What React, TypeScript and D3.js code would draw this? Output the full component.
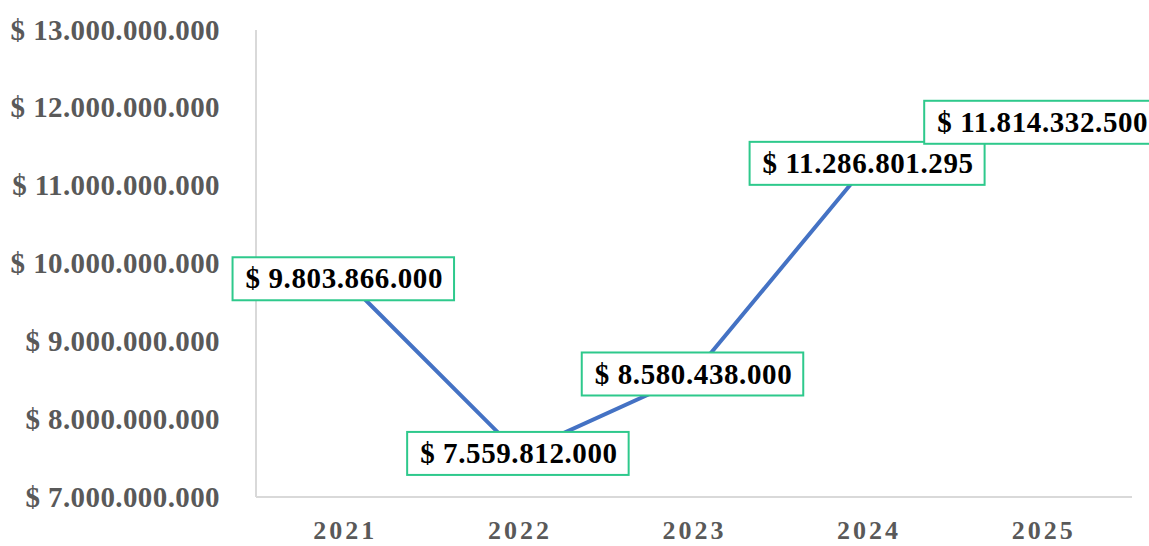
import { useEffect, useRef } from 'react';
import * as d3 from 'd3';

const years = ['2021', '2022', '2023', '2024', '2025'];
const revenue = [9803866000, 7559812000, 8580438000, 11286801295, 11814332500];
const yTicks = [7e9, 8e9, 9e9, 10e9, 11e9, 12e9, 13e9];

const W = 1149;
const H = 546;
const FONT = '"Liberation Serif", "Times New Roman", serif';

const locale = d3.formatLocale({ decimal: ',', thousands: '.', grouping: [3], currency: ['$ ', ''] });
const money = locale.format('$,.0f');

export default function App() {
    const svgRef = useRef<SVGSVGElement | null>(null);

    useEffect(() => {
        if (!svgRef.current) return;
        const svg = d3.select(svgRef.current);
        svg.selectAll('*').remove();

        const x = d3.scaleBand().domain(years).range([257, 1130]);
        const y = d3.scaleLinear().domain([7e9, 13e9]).range([497, 30]);
        const cx = (d: string) => (x(d) ?? 0) + x.bandwidth() / 2;

        // axis lines
        svg.append('line')
            .attr('x1', 256).attr('x2', 256)
            .attr('y1', y(13e9)).attr('y2', y(7e9))
            .attr('stroke', '#d9d9d9').attr('stroke-width', 2);
        svg.append('line')
            .attr('x1', 256).attr('x2', 1132)
            .attr('y1', y(7e9)).attr('y2', y(7e9))
            .attr('stroke', '#d9d9d9').attr('stroke-width', 2);

        // y tick labels
        svg.append('g')
            .selectAll('text')
            .data(yTicks)
            .join('text')
            .attr('x', 220)
            .attr('y', d => y(d))
            .attr('dy', '0.33em')
            .attr('text-anchor', 'end')
            .attr('font-family', FONT)
            .attr('font-weight', 'bold')
            .attr('font-size', 29)
            .attr('letter-spacing', 0.4)
            .attr('fill', '#595959')
            .text(d => money(d));

        // x labels
        svg.append('g')
            .selectAll('text')
            .data(years)
            .join('text')
            .attr('x', d => cx(d) + 1)
            .attr('y', 539)
            .attr('text-anchor', 'middle')
            .attr('font-family', FONT)
            .attr('font-weight', 'bold')
            .attr('font-size', 26)
            .attr('letter-spacing', 3)
            .attr('fill', '#595959')
            .text(d => d);

        // line
        const line = d3.line<number>()
            .x((_, i) => cx(years[i]))
            .y(d => y(d));
        svg.append('path')
            .datum(revenue)
            .attr('d', line)
            .attr('fill', 'none')
            .attr('stroke', '#4472c4')
            .attr('stroke-width', 4)
            .attr('stroke-linejoin', 'round');

        // data labels
        const labels = svg.append('g')
            .selectAll('g')
            .data(revenue)
            .join('g')
            .attr('transform', (d, i) => `translate(${cx(years[i])},${y(d)})`);

        const rects = labels.append('rect')
            .attr('fill', 'white')
            .attr('stroke', '#2ec98c')
            .attr('stroke-width', 2);

        const texts = labels.append('text')
            .attr('text-anchor', 'middle')
            .attr('dy', '0.33em')
            .attr('font-family', FONT)
            .attr('font-weight', 'bold')
            .attr('font-size', 29)
            .attr('letter-spacing', 0.6)
            .attr('fill', '#000')
            .text(d => money(d));

        texts.each(function (_, i) {
            const w = (this as SVGTextElement).getComputedTextLength();
            d3.select(rects.nodes()[i])
                .attr('x', -w / 2 - 13)
                .attr('y', -21.5)
                .attr('width', w + 24)
                .attr('height', 43);
        });
    }, []);

    return (
        <svg
            ref={svgRef}
            width={W}
            height={H}
            style={{ position: 'absolute', left: 0, top: 0, background: '#fff' }}
        />
    );
}
